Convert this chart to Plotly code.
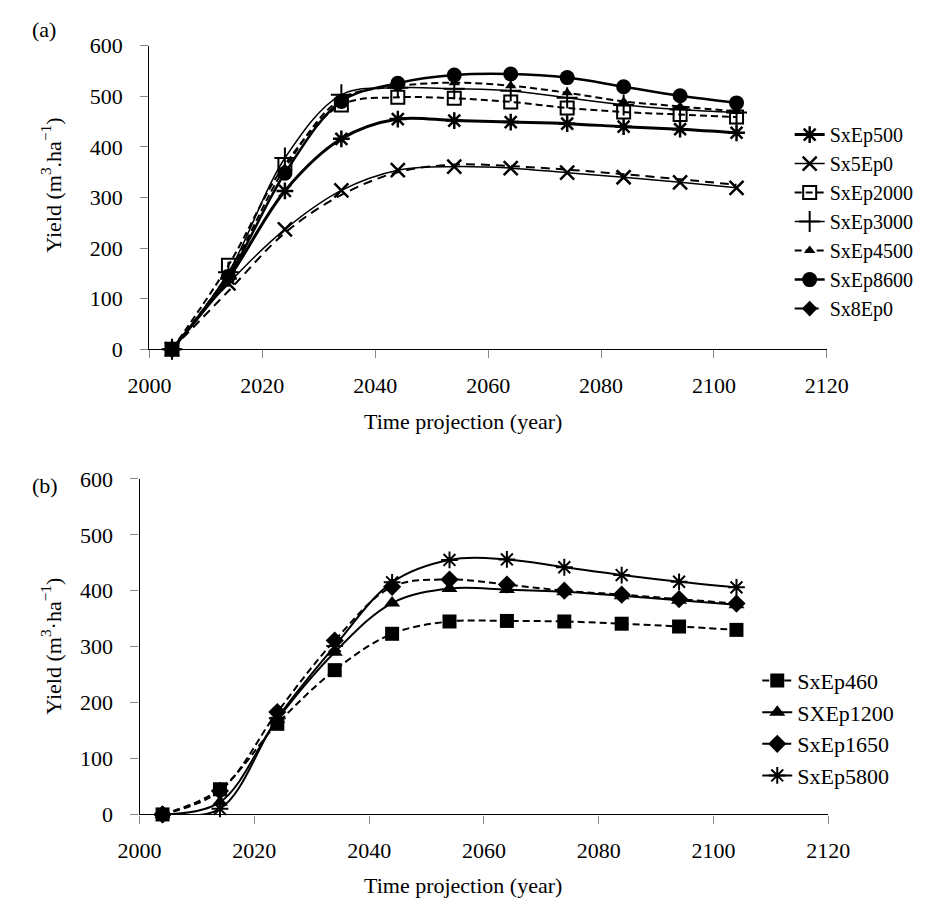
import plotly.graph_objects as go

years = [2004, 2014, 2024, 2034, 2044, 2054, 2064, 2074, 2084, 2094, 2104]

# Panel (a)
a_SxEp500 = [0, 140, 313, 416, 455, 452, 449, 446, 440, 435, 428]
a_Sx5Ep0 = [0, 130, 237, 314, 354, 361, 358, 349, 340, 330, 319]
a_SxEp2000 = [0, 166, 365, 483, 498, 496, 489, 477, 469, 464, 459]
a_SxEp3000 = [0, 152, 378, 503, 517, 515, 511, 497, 483, 474, 468]
a_SxEp4500 = [0, 150, 358, 495, 520, 527, 521, 507, 490, 480, 470]
a_SxEp8600 = [0, 144, 348, 490, 526, 542, 544, 537, 519, 501, 487]
a_Sx8Ep0 = [0, 115, 230, 305, 350, 365, 362, 355, 346, 336, 325]

# Panel (b)
b_SxEp460 = [0, 45, 162, 258, 323, 345, 346, 345, 341, 336, 330]
b_SXEp1200 = [0, 22, 170, 290, 378, 404, 402, 398, 391, 383, 375]
b_SxEp1650 = [0, 42, 183, 311, 407, 420, 411, 400, 393, 385, 377]
b_SxEp5800 = [0, 10, 172, 301, 415, 455, 456, 442, 428, 416, 406]

x_ticks = [2000, 2020, 2040, 2060, 2080, 2100, 2120]
y_ticks = [0, 100, 200, 300, 400, 500, 600]

FONT = "Liberation Serif"
FS = 22
W, H = 949, 914

fig = go.Figure()

def add(x, y, name, symbol, msize, mlw, lw, dash, xa, ya, legend, only_first_marker=False):
    kw = {}
    if only_first_marker:
        kw = dict(selectedpoints=[0],
                  selected=dict(marker=dict(opacity=1)),
                  unselected=dict(marker=dict(opacity=0)))
    fig.add_trace(go.Scatter(
        x=x, y=y, name=name, mode="lines+markers",
        line=dict(color="black", width=lw, dash=dash, shape="spline", smoothing=1.0),
        marker=dict(symbol=symbol, size=msize, color="black",
                    line=dict(color="black", width=mlw)),
        xaxis=xa, yaxis=ya, legend=legend, cliponaxis=False, **kw,
    ))

DASH = "7px,4px"
# panel (a)
add(years, a_SxEp500, "SxEp500", "asterisk-open", 14, 2.5, 3, "solid", "x", "y", "legend")
add(years, a_Sx5Ep0, "Sx5Ep0", "x-thin-open", 14, 2.5, 1.5, "solid", "x", "y", "legend")
add(years, a_SxEp2000, "SxEp2000", "square-open", 13, 2, 2, DASH, "x", "y", "legend")
add(years, a_SxEp3000, "SxEp3000", "cross-thin-open", 15, 2, 1.5, "solid", "x", "y", "legend")
add(years, a_SxEp4500, "SxEp4500", "triangle-up", 10, 0, 2, DASH, "x", "y", "legend")
add(years, a_SxEp8600, "SxEp8600", "circle", 15, 0, 2.5, "solid", "x", "y", "legend")
add(years, a_Sx8Ep0, "Sx8Ep0", "diamond", 12, 0, 2, "9px,6px", "x", "y", "legend",
    only_first_marker=True)

# panel (b)
add(years, b_SxEp460, "SxEp460", "square", 14, 0, 2, DASH, "x2", "y2", "legend2")
add(years, b_SXEp1200, "SXEp1200", "triangle-up", 14, 0, 2, "solid", "x2", "y2", "legend2")
add(years, b_SxEp1650, "SxEp1650", "diamond", 14, 0, 2, DASH, "x2", "y2", "legend2")
add(years, b_SxEp5800, "SxEp5800", "asterisk-open", 14, 2, 2, "solid", "x2", "y2", "legend2")

def xaxis(domain, anchor):
    return dict(domain=domain, anchor=anchor, range=[2000, 2120], tickvals=x_ticks,
                showgrid=False, zeroline=False, showline=True, linecolor="black", linewidth=1.3,
                ticks="outside", ticklen=8, tickcolor="#888", tickwidth=1.3,
                tickfont=dict(family=FONT, size=FS, color="black"), ticklabelstandoff=8,
                fixedrange=True)

def yaxis(domain, anchor):
    return dict(domain=domain, anchor=anchor, range=[0, 600], tickvals=y_ticks,
                showgrid=False, zeroline=False, showline=True, linecolor="black", linewidth=1.3,
                ticks="outside", ticklen=8, tickcolor="#888", tickwidth=1.3,
                tickfont=dict(family=FONT, size=FS, color="black"), ticklabelstandoff=13,
                fixedrange=True)

def px_x(p):
    return p / W

def px_y(p):
    return 1 - p / H

fig.update_layout(
    width=W, height=H, margin=dict(l=0, r=0, t=0, b=0),
    paper_bgcolor="white", plot_bgcolor="white",
    font=dict(family=FONT, size=FS, color="black"),
    xaxis=xaxis([px_x(133.6), px_x(844)], "y"),
    yaxis=yaxis([px_y(346.7), px_y(34.7)], "x"),
    xaxis2=xaxis([px_x(123.3), px_x(845.5)], "y2"),
    yaxis2=yaxis([px_y(825), px_y(480)], "x2"),
    legend=dict(x=px_x(805), y=px_y(106), xanchor="left", yanchor="top",
                font=dict(family=FONT, size=20), bgcolor="rgba(0,0,0,0)",
                itemsizing="trace", tracegroupgap=0),
    legend2=dict(x=px_x(771), y=px_y(666), xanchor="left", yanchor="top",
                 font=dict(family=FONT, size=FS), bgcolor="rgba(0,0,0,0)",
                 itemsizing="trace", tracegroupgap=0),
    showlegend=True,
)

annots = [
    dict(text="(a)", x=px_x(8), y=px_y(18), xanchor="left", yanchor="middle"),
    dict(text="(b)", x=px_x(8), y=px_y(487), xanchor="left", yanchor="middle"),
    dict(text="Time projection (year)", x=px_x(462), y=px_y(421), xanchor="center", yanchor="middle"),
    dict(text="Time projection (year)", x=px_x(462), y=px_y(898), xanchor="center", yanchor="middle"),
    dict(text="Yield (m<sup>3</sup>.ha<sup>−1</sup>)", x=px_x(31), y=px_y(178),
         xanchor="center", yanchor="middle", textangle=-90),
    dict(text="Yield (m<sup>3</sup>·ha<sup>−1</sup>)", x=px_x(31), y=px_y(652),
         xanchor="center", yanchor="middle", textangle=-90),
]
for a in annots:
    fig.add_annotation(xref="paper", yref="paper", showarrow=False,
                       font=dict(family=FONT, size=FS, color="black"), **a)

fig.write_html("out.html")
